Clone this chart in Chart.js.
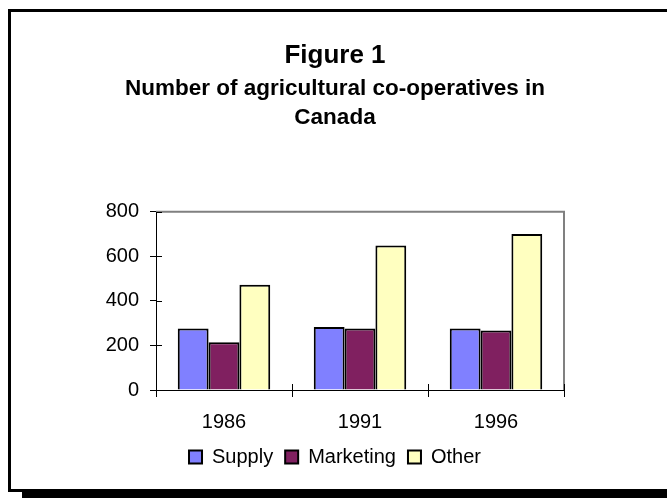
<!DOCTYPE html>
<html lang="en">
<head>
<meta charset="UTF-8">
<title>Figure 1</title>
<script src="https://cdn.jsdelivr.net/npm/chart.js"></script>
<style>
  html, body { margin: 0; background: #fff; overflow: hidden; }
  /* framed panel with a drop shadow along the bottom */
  #frame { position: absolute; left: 8px; top: 9px; width: 656px; height: 477px;
           border-left: 3px solid #000; border-top: 3px solid #000; border-bottom: 3px solid #000; }
  #shadow { position: absolute; left: 22px; top: 492px; width: 645px; height: 6px; background: #000; }
  #wrap { position: absolute; left: 11px; top: 12px; width: 656px; height: 477px; }
</style>
</head>
<body>
<div id="frame"></div>
<div id="shadow"></div>
<div id="wrap"><canvas id="coopChart" width="656" height="477"></canvas></div>

<script>
// Number of co-operatives per census year
const years = ['1986', '1991', '1996'];
const supply = [276, 283, 276];
const marketing = [214, 276, 267];
const other = [472, 648, 700];

const yTicks = [0, 200, 400, 600, 800];

Chart.defaults.font.family = "'Liberation Sans', Arial, sans-serif";
Chart.defaults.color = '#000';

// gray frame on top/right of the plot and tick marks that cross the axes
const plotFrame = {
    id: 'plotFrame',
    beforeDatasetsDraw(chart) {
        const { ctx, chartArea: a } = chart;
        ctx.save();
        ctx.strokeStyle = '#808080';
        ctx.lineWidth = 2;
        ctx.beginPath();
        ctx.moveTo(a.left, a.top);
        ctx.lineTo(a.right, a.top);
        ctx.lineTo(a.right, a.bottom);
        ctx.stroke();
        ctx.restore();
    },
    afterDraw(chart) {
        const { ctx, chartArea: a, scales } = chart;
        ctx.save();
        ctx.strokeStyle = '#000';
        ctx.lineWidth = 1;
        ctx.beginPath();
        yTicks.forEach(v => {
            const y = Math.round(scales.y.getPixelForValue(v)) + 0.5;
            ctx.moveTo(a.left, y);
            ctx.lineTo(a.left + 6, y);
        });
        for (let i = 0; i <= years.length; i++) {
            const x = Math.round(scales.x.getPixelForValue(i - 0.5)) + 0.5;
            ctx.moveTo(x, a.bottom);
            ctx.lineTo(x, a.bottom - 6);
        }
        ctx.stroke();
        ctx.restore();
    }
};

new Chart(document.getElementById('coopChart'), {
    type: 'bar',
    data: {
        labels: years,
        datasets: [
            { label: 'Supply', data: supply, backgroundColor: '#8080FF' },
            { label: 'Marketing', data: marketing, backgroundColor: '#802060' },
            { label: 'Other', data: other, backgroundColor: '#FFFFC0' }
        ]
    },
    options: {
        responsive: false,
        animation: false,
        layout: { padding: { left: 95, right: 103, top: 0, bottom: 12 } },
        datasets: {
            bar: {
                borderColor: '#000',
                borderWidth: 2,
                categoryPercentage: 0.68,
                barPercentage: 1.0
            }
        },
        scales: {
            x: {
                afterFit(scale) { scale.height = 45; },
                grid: { offset: true, drawOnChartArea: false, tickLength: 7, color: '#000' },
                border: { color: '#000', width: 1 },
                ticks: { font: { size: 20 }, padding: 13 }
            },
            y: {
                min: 0,
                max: 800,
                afterFit(scale) { scale.width = 50; },
                afterBuildTicks(scale) { scale.ticks = yTicks.map(v => ({ value: v })); },
                grid: { drawOnChartArea: false, tickLength: 6, color: '#000' },
                border: { color: '#000', width: 1 },
                ticks: { font: { size: 20 }, padding: 11 }
            }
        },
        plugins: {
            title: {
                display: true,
                text: 'Figure 1',
                font: { size: 26, weight: 'bold', lineHeight: 1.2 },
                padding: { top: 28, bottom: 0 }
            },
            subtitle: {
                display: true,
                text: ['Number of agricultural co-operatives in', 'Canada'],
                color: '#000',
                font: { size: 22.5, weight: 'bold', lineHeight: 1.3 },
                padding: { top: 3, bottom: 79 }
            },
            legend: {
                position: 'bottom',
                labels: {
                    boxWidth: 13,
                    boxHeight: 13,
                    padding: 12,
                    font: { size: 20 },
                    useBorderRadius: false
                }
            },
            tooltip: { enabled: false }
        }
    },
    plugins: [plotFrame]
});
</script>
</body>
</html>
